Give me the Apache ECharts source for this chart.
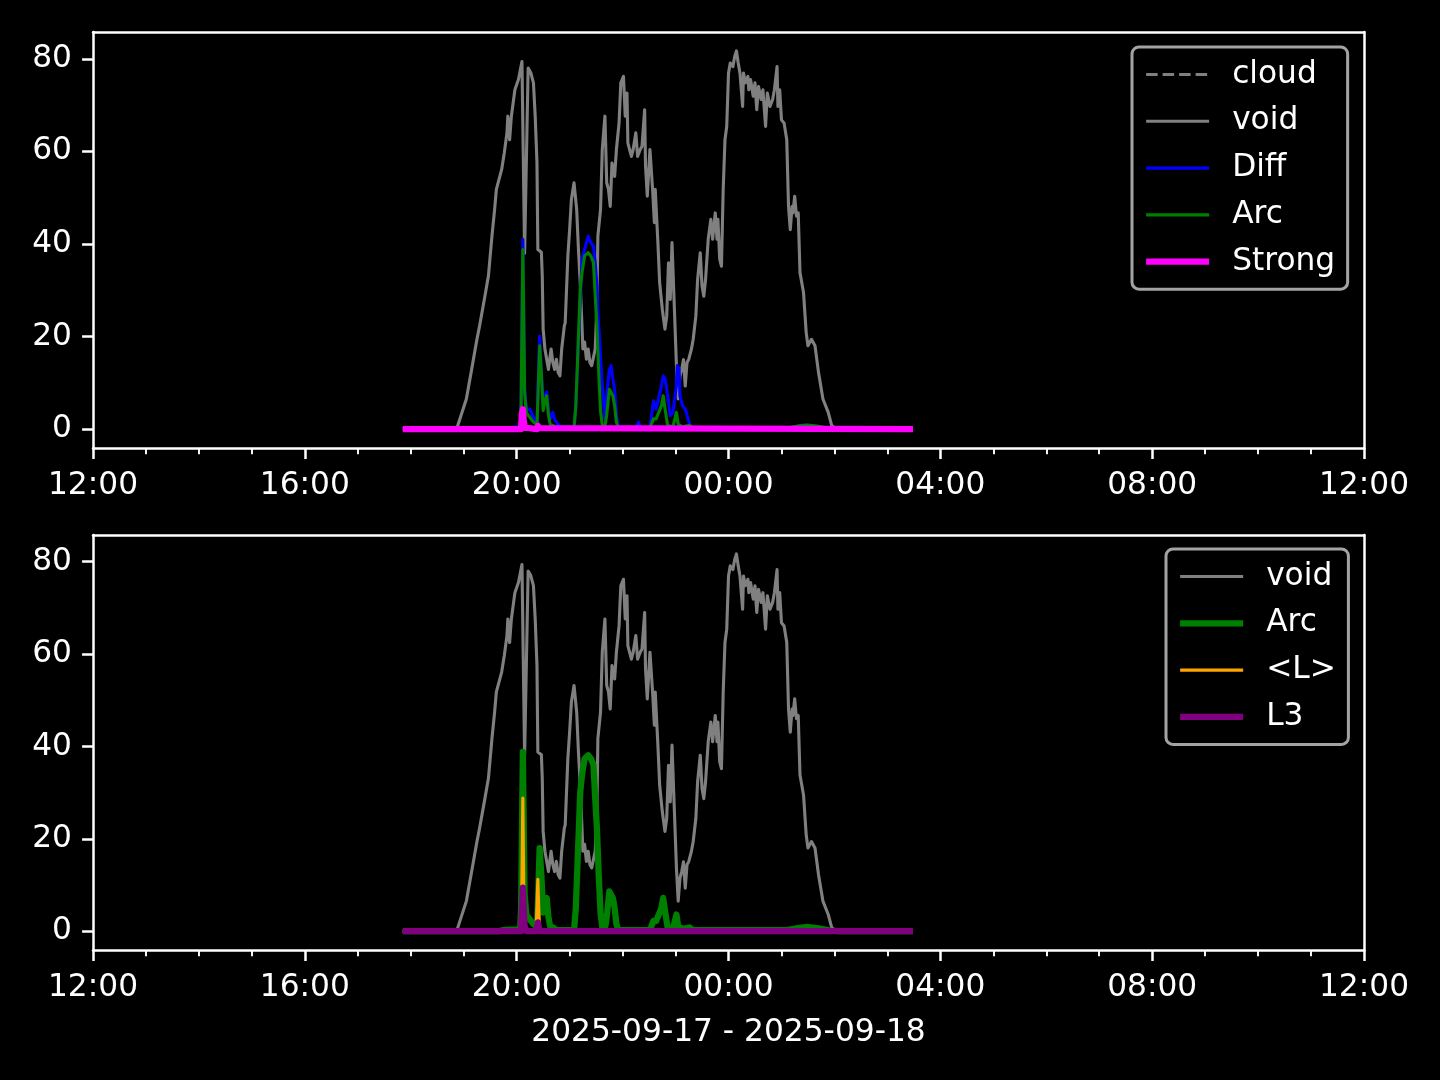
<!DOCTYPE html>
<html>
<head>
<meta charset="utf-8">
<script src="https://cdn.jsdelivr.net/npm/echarts@6/dist/echarts.min.js"></script>
<style>
  html, body { margin: 0; padding: 0; background: #000; }
  #chart { width: 1440px; height: 1080px; }
</style>
</head>
<body>
<div id="chart"></div>
<script>
// ---------------- data (times are clock times HH:MM, 17 Sep 12:00 -> 18 Sep 12:00) ----------------
const xTickLabels = ['12:00', '16:00', '20:00', '00:00', '04:00', '08:00', '12:00'];
const yTickValues = [0, 20, 40, 60, 80];
const dateLabel = '2025-09-17 - 2025-09-18';

const cloudData = [['17:51', 0], ['03:29', 0]];

const voidData = [
  ['17:51', 0], ['18:52', 0], ['19:03', 6.5], ['19:09', 12.9], ['19:15', 19.4], ['19:18', 22.3],
  ['19:24', 28.7], ['19:28', 33.1], ['19:32', 41.7], ['19:35', 47.4], ['19:37', 51.8], ['19:43', 56.1],
  ['19:46', 59.7], ['19:49', 64.0], ['19:50', 67.6], ['19:52', 62.5], ['19:54', 67.6], ['19:58', 73.3],
  ['20:02', 75.5], ['20:06', 79.4], ['20:09', 38.0], ['20:13', 78.0], ['20:16', 77.0], ['20:19', 74.8],
  ['20:21', 67.6], ['20:23', 57.5], ['20:24', 38.8], ['20:28', 38.2], ['20:29', 33.1], ['20:30', 21.6],
  ['20:32', 17.3], ['20:36', 12.9], ['20:39', 17.3], ['20:41', 14.4], ['20:43', 12.9], ['20:45', 15.1],
  ['20:47', 12.2], ['20:49', 11.5], ['20:51', 17.3], ['20:54', 22.3], ['20:55', 23.0], ['20:58', 37.4],
  ['21:00', 43.1], ['21:02', 49.6], ['21:05', 53.2], ['21:08', 47.4], ['21:10', 38.8], ['21:12', 31.6],
  ['21:14', 22.3], ['21:15', 17.3], ['21:17', 18.8], ['21:19', 15.1], ['21:21', 17.3], ['21:23', 14.4],
  ['21:25', 13.7], ['21:29', 17.3], ['21:31', 27.3], ['21:32', 41.7], ['21:35', 47.4], ['21:37', 60.4],
  ['21:40', 67.6], ['21:42', 53.2], ['21:44', 51.8], ['21:46', 48.1], ['21:48', 57.5], ['21:51', 54.6],
  ['21:53', 60.4], ['21:56', 66.1], ['21:58', 74.8], ['22:01', 76.2], ['22:03', 67.6], ['22:05', 72.6],
  ['22:06', 61.8], ['22:10', 58.9], ['22:12', 60.4], ['22:15', 64.0], ['22:17', 58.9], ['22:20', 60.4],
  ['22:22', 61.1], ['22:25', 69.0], ['22:26', 56.8], ['22:28', 50.3], ['22:31', 60.4], ['22:34', 51.8],
  ['22:36', 44.6], ['22:37', 51.8], ['22:40', 40.3], ['22:42', 31.6], ['22:45', 25.9], ['22:48', 21.6],
  ['22:50', 24.4], ['22:52', 35.9], ['22:54', 28.0], ['22:56', 40.3], ['22:59', 24.4], ['23:01', 13.7],
  ['23:03', 6.5], ['23:05', 11.5], ['23:07', 12.9], ['23:09', 15.0], ['23:11', 9.3], ['23:13', 14.4],
  ['23:15', 15.1], ['23:18', 17.3], ['23:20', 19.4], ['23:23', 24.4], ['23:25', 32.3], ['23:28', 38.1],
  ['23:30', 30.9], ['23:32', 28.7], ['23:34', 32.3], ['23:37', 41.0], ['23:40', 45.3], ['23:42', 41.0],
  ['23:45', 46.7], ['23:47', 41.0], ['23:48', 45.3], ['23:50', 36.7], ['23:52', 35.2], ['23:54', 51.8],
  ['23:56', 62.5], ['23:58', 65.4], ['00:00', 76.9], ['00:02', 79.1], ['00:05', 78.3], ['00:07', 80.5],
  ['00:09', 81.7], ['00:11', 79.1], ['00:13', 76.9], ['00:16', 69.7], ['00:17', 76.9], ['00:19', 74.8],
  ['00:22', 76.2], ['00:23', 73.3], ['00:25', 75.5], ['00:28', 71.9], ['00:30', 74.8], ['00:32', 69.0],
  ['00:34', 74.0], ['00:37', 71.2], ['00:39', 73.3], ['00:42', 65.4], ['00:44', 72.6], ['00:47', 69.7],
  ['00:50', 71.2], ['00:52', 73.3], ['00:55', 78.3], ['00:56', 69.7], ['00:58', 73.3], ['01:00', 66.8],
  ['01:03', 66.1], ['01:06', 62.5], ['01:08', 48.1], ['01:10', 43.1], ['01:12', 48.1], ['01:13', 46.7],
  ['01:15', 50.3], ['01:17', 46.0], ['01:19', 46.7], ['01:21', 33.8], ['01:25', 29.5], ['01:28', 20.9],
  ['01:30', 18.0], ['01:34', 19.4], ['01:38', 18.0], ['01:42', 12.2], ['01:47', 6.5], ['01:53', 3.6],
  ['01:57', 0.7], ['02:01', 0.2], ['03:29', 0]
];

const diffData = [
  ['17:51', 0], ['19:40', 0], ['19:47', 0.3], ['20:04', 0.5], ['20:05', 5], ['20:07', 41.0],
  ['20:09', 8.6], ['20:11', 4.3], ['20:15', 4.3], ['20:19', 2.5], ['20:23', 1.5], ['20:24', 8],
  ['20:26', 20.1], ['20:28', 12], ['20:30', 5.8], ['20:32', 7], ['20:34', 8.0], ['20:36', 4],
  ['20:38', 2.2], ['20:41', 3.6], ['20:43', 2], ['20:45', 1.5], ['20:49', 0.5], ['21:05', 0.5],
  ['21:07', 5], ['21:10', 18.7], ['21:14', 36.7], ['21:17', 38.8], ['21:21', 41.7], ['21:24', 40.3],
  ['21:27', 39.5], ['21:29', 35.9], ['21:31', 30.9], ['21:32', 25], ['21:34', 19.4], ['21:36', 12],
  ['21:38', 7.2], ['21:40', 2.2], ['21:42', 7.2], ['21:45', 12.9], ['21:47', 13.7], ['21:49', 10.8],
  ['21:51', 8.6], ['21:53', 2.9], ['21:55', 0.5], ['22:15', 0.3], ['22:18', 1.5], ['22:20', 0.3],
  ['22:31', 0.3], ['22:35', 6.1], ['22:38', 4.3], ['22:44', 9.3], ['22:46', 11.5], ['22:48', 11],
  ['22:50', 8.6], ['22:52', 5.8], ['22:54', 2.9], ['22:57', 3.6], ['23:01', 9.3], ['23:02', 13.7],
  ['23:04', 13], ['23:05', 7.2], ['23:08', 5.0], ['23:11', 4.3], ['23:13', 3], ['23:16', 1.0],
  ['23:19', 0.3], ['00:00', 0.2], ['01:10', 0.3], ['01:25', 0.9], ['01:40', 0.6], ['01:55', 0.1],
  ['02:05', 0], ['03:29', 0]
];

const arcData = [
  ['17:51', 0], ['19:40', 0], ['19:47', 0.3], ['20:04', 0.4], ['20:05', 5], ['20:07', 38.8],
  ['20:09', 8], ['20:11', 3.5], ['20:15', 2.5], ['20:19', 1.5], ['20:23', 1.0], ['20:24', 6],
  ['20:26', 18.0], ['20:28', 12], ['20:30', 4], ['20:32', 6], ['20:34', 7.2], ['20:36', 3],
  ['20:38', 1.0], ['20:41', 0.8], ['20:45', 0.3], ['20:49', 0.2], ['21:05', 0.2], ['21:07', 5],
  ['21:09', 15], ['21:12', 30], ['21:14', 33.8], ['21:17', 37.4], ['21:21', 38.1], ['21:24', 37.4],
  ['21:27', 36], ['21:29', 28.7], ['21:31', 22], ['21:33', 12], ['21:35', 4], ['21:37', 0.8],
  ['21:40', 0.5], ['21:42', 3], ['21:45', 8.6], ['21:47', 7.9], ['21:49', 7.2], ['21:51', 5],
  ['21:53', 1.5], ['21:55', 0.3], ['22:31', 0.2], ['22:35', 2.2], ['22:38', 2.2], ['22:44', 5.0],
  ['22:46', 7.2], ['22:48', 4.5], ['22:51', 0.8], ['22:57', 0.5], ['23:01', 3.6], ['23:03', 1.0],
  ['23:08', 0.5], ['23:16', 0.8], ['23:20', 0.2], ['01:05', 0.2], ['01:20', 0.7], ['01:30', 0.9],
  ['01:42', 0.6], ['01:55', 0.1], ['02:05', 0], ['03:29', 0]
];

const strongData = [
  ['17:51', 0], ['20:05', 0], ['20:06', 3.5], ['20:07', 4.3], ['20:08', 2], ['20:09', 0.3],
  ['20:11', 0], ['20:23', 0], ['20:24', 0.7], ['20:26', 0.2], ['20:28', 0], ['03:29', 0]
];

const meanLData = [
  ['17:51', 0], ['20:05', 0], ['20:06', 12], ['20:07', 28.8], ['20:08', 10], ['20:09', 0.5],
  ['20:11', 0], ['20:22', 0], ['20:24', 11.2], ['20:25', 5], ['20:26', 0.3], ['20:28', 0], ['03:29', 0]
];

const l3Data = [
  ['17:51', 0], ['20:05', 0], ['20:07', 9.4], ['20:09', 1], ['20:11', 0], ['20:22', 0],
  ['20:24', 1.9], ['20:26', 0], ['03:29', 0]
];

// ---------------- helpers ----------------
const H = 3600 * 1000;
const X_MIN = Date.UTC(2025, 8, 17, 12, 0);
const X_MAX = Date.UTC(2025, 8, 18, 12, 0);
function ts(hhmm) {
  const [h, m] = hhmm.split(':').map(Number);
  const day = h < 12 ? 18 : 17;
  return Date.UTC(2025, 8, day, h, m);
}
function pts(arr) { return arr.map(d => [ts(d[0]), d[1]]); }

const Y_MIN = -4.085, Y_MAX = 85.785;
const FONT = 'DejaVu Sans';
const FS = 31.25;
const LW1 = 3.1, LW2 = 6.25;
const GREY = '#808080';

function xAxes(gridIndex, withName) {
  const main = {
    type: 'value', gridIndex, min: X_MIN, max: X_MAX, interval: 4 * H, position: 'bottom',
    axisLine: { show: true, onZero: false, lineStyle: { color: '#fff', width: 2.5 } },
    axisTick: { show: true, length: 10.9, lineStyle: { color: '#fff', width: 2.5 } },
    minorTick: { show: true, splitNumber: 4, length: 6.25, lineStyle: { color: '#fff', width: 1.9 } },
    axisLabel: {
      color: '#fff', fontSize: FS, fontFamily: FONT, margin: 22,
      formatter: v => xTickLabels[Math.round((v - X_MIN) / (4 * H))]
    },
    splitLine: { show: false }, minorSplitLine: { show: false }
  };
  if (withName) {
    main.name = dateLabel;
    main.nameLocation = 'middle';
    main.nameGap = 67;
    main.nameTextStyle = { color: '#fff', fontSize: FS, fontFamily: FONT };
  }
  const top = {
    type: 'value', gridIndex, min: X_MIN, max: X_MAX, position: 'top',
    axisLine: { show: true, onZero: false, lineStyle: { color: '#fff', width: 2.5 } },
    axisTick: { show: false }, axisLabel: { show: false }, splitLine: { show: false }
  };
  return [main, top];
}
function yAxes(gridIndex) {
  const main = {
    type: 'value', gridIndex, min: Y_MIN, max: Y_MAX, position: 'left',
    axisLine: { show: true, onZero: false, lineStyle: { color: '#fff', width: 2.5 } },
    axisTick: { show: true, length: 10.9, customValues: yTickValues, lineStyle: { color: '#fff', width: 2.5 } },
    axisLabel: { color: '#fff', fontSize: FS, fontFamily: FONT, margin: 21, customValues: yTickValues },
    splitLine: { show: false }
  };
  const right = {
    type: 'value', gridIndex, min: Y_MIN, max: Y_MAX, position: 'right',
    axisLine: { show: true, onZero: false, lineStyle: { color: '#fff', width: 2.5 } },
    axisTick: { show: false }, axisLabel: { show: false }, splitLine: { show: false }
  };
  return [main, right];
}
function line(name, data, color, width, xi, yi, dash) {
  return {
    name, type: 'line', data: pts(data), xAxisIndex: xi, yAxisIndex: yi,
    symbol: 'none', showSymbol: false, animation: false,
    lineStyle: { color, width, type: dash || 'solid', join: 'round', cap: 'butt' },
    itemStyle: { color }
  };
}
function item(name, color, width, dash) {
  return { name, lineStyle: { color, width, type: dash || 'solid' } };
}
function legend(left, top, data) {
  return {
    left, top, orient: 'vertical', selectedMode: false,
    backgroundColor: 'rgba(0,0,0,0.8)', borderColor: 'rgba(204,204,204,0.8)', borderWidth: 3, borderRadius: 7,
    padding: [12, 12.5, 12, 11],
    itemWidth: 63, itemHeight: 31, itemGap: 15.8,
    itemStyle: { opacity: 0 },
    textStyle: { color: '#fff', fontSize: FS, fontFamily: FONT, lineHeight: 31, padding: [0, 0, 0, 18] },
    data
  };
}

const chart = echarts.init(document.getElementById('chart'), null, { renderer: 'canvas' });
chart.setOption({
  backgroundColor: '#000',
  animation: false,
  grid: [
    { left: 93, top: 32, width: 1271, height: 416, containLabel: false },
    { left: 93, top: 535, width: 1271, height: 415, containLabel: false }
  ],
  xAxis: [...xAxes(0, false), ...xAxes(1, true)],
  yAxis: [...yAxes(0), ...yAxes(1)],
  legend: [
    legend(1132, 47, [
      item('cloud', GREY, LW1, [11.5, 5]), item('void', GREY, LW1), item('Diff', '#0000ff', LW1),
      item('Arc', '#008000', LW1), item('Strong', '#ff00ff', LW2)
    ]),
    legend(1166, 549, [
      item('void', GREY, LW1), item('Arc', '#008000', LW2), item('<L>', '#ffa500', LW1), item('L3', '#800080', LW2)
    ])
  ],
  series: [
    line('cloud', cloudData, GREY, LW1, 0, 0, [11.5, 5]),
    line('void', voidData, GREY, LW1, 0, 0),
    line('Diff', diffData, '#0000ff', LW1, 0, 0),
    line('Arc', arcData, '#008000', LW1, 0, 0),
    line('Strong', strongData, '#ff00ff', LW2, 0, 0),
    line('void', voidData, GREY, LW1, 2, 2),
    line('Arc', arcData, '#008000', LW2, 2, 2),
    line('<L>', meanLData, '#ffa500', LW1, 2, 2),
    line('L3', l3Data, '#800080', LW2, 2, 2)
  ]
});
</script>
</body>
</html>
